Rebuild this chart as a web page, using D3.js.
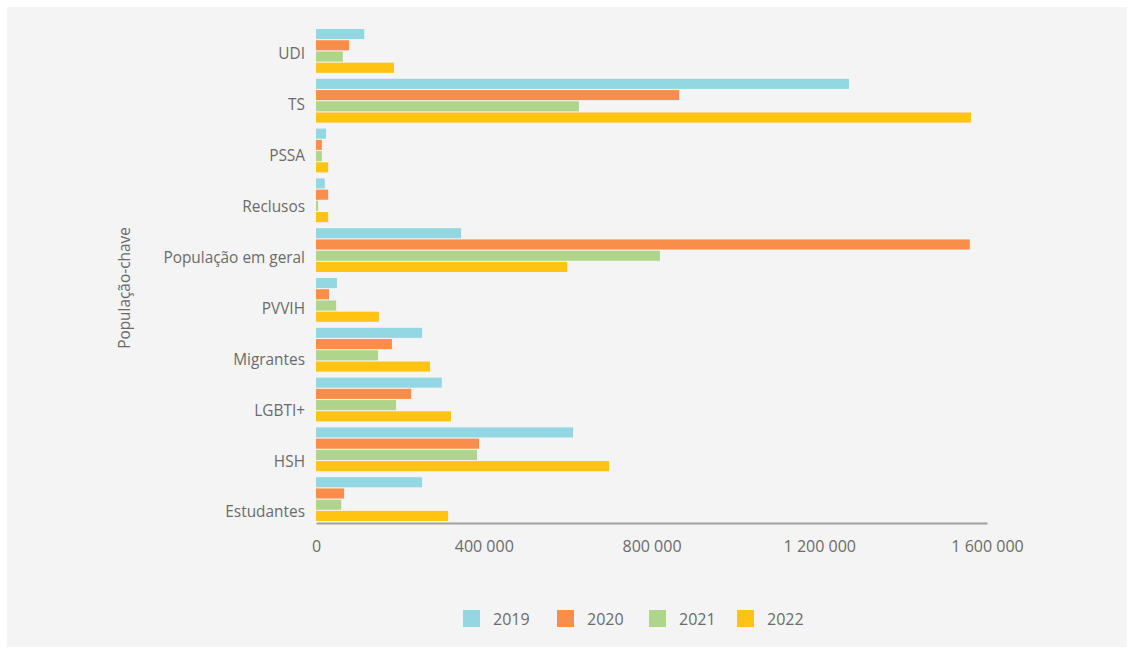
<!DOCTYPE html>
<html>
<head>
<meta charset="utf-8">
<script src="https://cdn.jsdelivr.net/npm/d3@7"></script>
<style>
  html, body { margin: 0; padding: 0; background: #ffffff; }
  svg { display: block; font-family: "Open Sans", "Noto Sans", sans-serif; }
</style>
</head>
<body>
<svg id="chart" width="1134" height="650"></svg>
<script>
const categories = ["UDI", "TS", "PSSA", "Reclusos", "População em geral", "PVVIH", "Migrantes", "LGBTI+", "HSH", "Estudantes"];
const years = ["2019", "2020", "2021", "2022"];
const colors = ["#93d7e3", "#f98e4a", "#afd58b", "#ffc312"];
const values2019 = [115000, 1271000, 24000, 21000, 346000, 50000, 253000, 300000, 613000, 253000];
const values2020 = [79000, 866000, 14000, 29000, 1559000, 31000, 181000, 227000, 389000, 67000];
const values2021 = [64000, 627000, 14000, 5000, 820000, 48000, 148000, 191000, 384000, 60000];
const values2022 = [186000, 1562000, 29000, 29000, 599000, 150000, 272000, 322000, 699000, 315000];
const xTicks = [0, 400000, 800000, 1200000, 1600000];
const yTitle = "População-chave";

const series = [values2019, values2020, values2021, values2022];
const svg = d3.select("#chart");
const textColor = "#6b6b6b";

svg.append("rect").attr("x", 7).attr("y", 7).attr("width", 1120).attr("height", 640).attr("fill", "#f4f4f4");

const x = d3.scaleLinear().domain([0, 1600000]).range([316, 987]);
const y = d3.scaleBand().domain(categories).range([26, 524]).paddingInner(0.12).paddingOuter(0.06);
const yInner = d3.scaleBand().domain(years).range([0, y.bandwidth()]).paddingInner(0.1);
const yLabel = d3.scalePoint().domain(categories).range([54, 512]);

const groups = svg.append("g").selectAll("g").data(categories).join("g")
  .attr("transform", d => `translate(0,${y(d)})`);
groups.selectAll("rect").data((d, i) => years.map((yr, k) => ({yr, k, v: series[k][i]}))).join("rect")
  .attr("x", x(0))
  .attr("y", d => yInner(d.yr))
  .attr("width", d => Math.max(0, x(d.v) - x(0)))
  .attr("height", yInner.bandwidth())
  .attr("fill", d => colors[d.k]);

// x axis
const xAxis = svg.append("g").attr("transform", "translate(0,523)")
  .call(d3.axisBottom(x).tickValues(xTicks).tickSize(0).tickPadding(18)
    .tickFormat(d => d3.format(",")(d).replace(/,/g, " ")));
xAxis.select(".domain").attr("stroke", "#a0a0a0").attr("stroke-width", 2);
xAxis.selectAll("text").attr("fill", textColor).attr("font-size", 16).attr("font-family", "Open Sans");

// y axis
const yAxis = svg.append("g").attr("transform", "translate(316,0)")
  .call(d3.axisLeft(yLabel).tickSize(0).tickPadding(11));
yAxis.select(".domain").remove();
yAxis.selectAll("text").attr("fill", textColor).attr("font-size", 15.4).attr("font-family", "Open Sans");

svg.append("text")
  .attr("transform", "translate(125,288) rotate(-90)")
  .attr("text-anchor", "middle")
  .attr("dy", "0.35em")
  .attr("fill", textColor).attr("font-size", 15.4)
  .text(yTitle);

// legend
const legendX = [463, 557, 649, 737];
const lg = svg.append("g").selectAll("g").data(years).join("g")
  .attr("transform", (d, i) => `translate(${legendX[i]},610)`);
lg.append("rect").attr("width", 17).attr("height", 17).attr("fill", (d, i) => colors[i]);
lg.append("text").attr("x", 30).attr("y", 9).attr("dy", "0.35em")
  .attr("fill", textColor).attr("font-size", 16).text(d => d);
</script>
</body>
</html>
